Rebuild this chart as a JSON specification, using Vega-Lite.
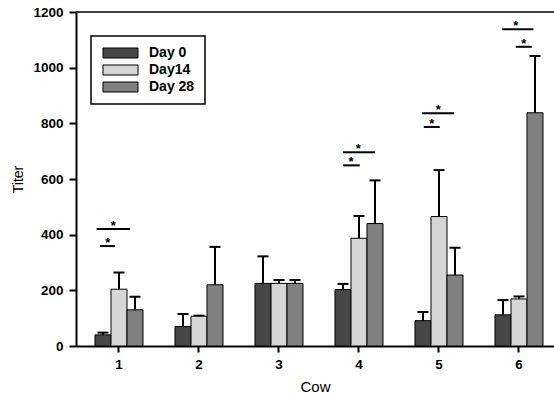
{
  "$schema": "https://vega.github.io/schema/vega-lite/v6.json",
  "width": 478,
  "height": 334,
  "autosize": "none",
  "padding": {"left": 76, "top": 12, "right": 0, "bottom": 48},
  "background": "white",
  "config": {
    "view": {"stroke": null},
    "font": "Liberation Sans",
    "axis": {
      "domainColor": "black",
      "domainWidth": 2,
      "tickColor": "black",
      "tickWidth": 2,
      "labelColor": "black",
      "titleColor": "black",
      "labelFont": "Liberation Sans",
      "titleFont": "Liberation Sans",
      "labelFontSize": 13.5,
      "labelFontWeight": "bold",
      "grid": false
    }
  },
  "layer": [
    {
      "data": {"values": [{}]},
      "mark": {"type": "rule", "color": "black", "strokeWidth": 1.5},
      "encoding": {"y": {"datum": 1200, "type": "quantitative"}}
    },
    {
      "data": {
        "values": [
          {"cow": "1", "day": "Day 0", "titer": 40, "upper": 48},
          {"cow": "1", "day": "Day14", "titer": 204, "upper": 264},
          {"cow": "1", "day": "Day 28", "titer": 130, "upper": 177},
          {"cow": "2", "day": "Day 0", "titer": 70, "upper": 115},
          {"cow": "2", "day": "Day14", "titer": 107, "upper": 109},
          {"cow": "2", "day": "Day 28", "titer": 220, "upper": 356},
          {"cow": "3", "day": "Day 0", "titer": 225, "upper": 322},
          {"cow": "3", "day": "Day14", "titer": 225, "upper": 237},
          {"cow": "3", "day": "Day 28", "titer": 225, "upper": 237},
          {"cow": "4", "day": "Day 0", "titer": 203, "upper": 223},
          {"cow": "4", "day": "Day14", "titer": 387, "upper": 467},
          {"cow": "4", "day": "Day 28", "titer": 440, "upper": 595},
          {"cow": "5", "day": "Day 0", "titer": 91, "upper": 122},
          {"cow": "5", "day": "Day14", "titer": 465, "upper": 632},
          {"cow": "5", "day": "Day 28", "titer": 255, "upper": 353},
          {"cow": "6", "day": "Day 0", "titer": 112, "upper": 165},
          {"cow": "6", "day": "Day14", "titer": 169, "upper": 178},
          {"cow": "6", "day": "Day 28", "titer": 838, "upper": 1042}
        ]
      },
      "encoding": {
        "x": {
          "field": "cow",
          "type": "nominal",
          "scale": {"type": "band", "paddingInner": 0.4, "paddingOuter": 0.1875, "align": 0.6333},
          "axis": {
            "title": "Cow",
            "labelAngle": 0,
            "tickSize": 6,
            "labelPadding": 5,
            "titleFontSize": 15,
            "titleFontWeight": "normal",
            "titleY": 45,
            "titleBaseline": "alphabetic"
          }
        },
        "xOffset": {"field": "day", "type": "nominal", "sort": ["Day 0", "Day14", "Day 28"]}
      },
      "layer": [
        {
          "mark": {"type": "rule", "color": "black", "strokeWidth": 2},
          "encoding": {
            "y": {"field": "titer", "type": "quantitative"},
            "y2": {"field": "upper"}
          }
        },
        {
          "mark": {"type": "tick", "color": "black", "size": 11, "thickness": 2, "opacity": 1},
          "encoding": {
            "y": {"field": "upper", "type": "quantitative"}
          }
        },
        {
          "mark": {"type": "bar", "stroke": "black", "strokeWidth": 1, "opacity": 1},
          "encoding": {
            "y": {
              "field": "titer",
              "type": "quantitative",
              "scale": {"domain": [0, 1200], "nice": false},
              "axis": {
                "title": "Titer",
                "format": "d",
                "values": [0, 200, 400, 600, 800, 1000, 1200],
                "tickSize": 7,
                "labelPadding": 6,
                "titleFontSize": 14,
                "titleFontWeight": "normal",
                "titleX": -54,
                "titleY": 167,
                "titleAngle": -90,
                "titleAlign": "center",
                "titleBaseline": "alphabetic"
              }
            },
            "fill": {
              "field": "day",
              "type": "nominal",
              "sort": ["Day 0", "Day14", "Day 28"],
              "scale": {"domain": ["Day 0", "Day14", "Day 28"], "range": ["#474747", "#d6d6d6", "#808080"]},
              "legend": {
                "title": null,
                "orient": "none",
                "legendX": 15,
                "legendY": 24,
                "padding": 10,
                "strokeColor": "black",
                "fillColor": "white",
                "symbolType": "M-3.5,-1H3.5V1H-3.5Z",
                "symbolSize": 100,
                "symbolStrokeColor": "black",
                "symbolStrokeWidth": 1,
                "symbolOpacity": 1,
                "symbolOffset": 12.5,
                "labelOffset": 21.5,
                "labelFontSize": 14,
                "labelFontWeight": "bold",
                "labelFont": "Liberation Sans",
                "labelColor": "black",
                "rowPadding": 3,
                "encode": {"legend": {"update": {"strokeWidth": {"value": 1.5}}}}
              }
            }
          }
        }
      ]
    },
    {
      "data": {
        "values": [
          {"x1": 0.72, "x2": 1.14, "y": 420, "sx": 0.93},
          {"x1": 0.76, "x2": 0.95, "y": 359, "sx": 0.86},
          {"x1": 3.80, "x2": 4.20, "y": 696, "sx": 3.99},
          {"x1": 3.80, "x2": 4.01, "y": 649, "sx": 3.90},
          {"x1": 4.79, "x2": 5.19, "y": 836, "sx": 4.99},
          {"x1": 4.81, "x2": 5.01, "y": 787, "sx": 4.91},
          {"x1": 5.79, "x2": 6.18, "y": 1138, "sx": 5.96},
          {"x1": 5.96, "x2": 6.16, "y": 1075, "sx": 6.06}
        ]
      },
      "layer": [
        {
          "mark": {"type": "rule", "color": "black", "strokeWidth": 2},
          "encoding": {
            "x": {"field": "x1", "type": "quantitative", "scale": {"domain": [0.4625, 6.4375], "nice": false, "zero": false}, "axis": null},
            "x2": {"field": "x2"},
            "y": {"field": "y", "type": "quantitative"}
          }
        },
        {
          "mark": {"type": "text", "text": "*", "fontSize": 13, "fontWeight": "bold", "color": "black", "baseline": "alphabetic", "dy": 1},
          "encoding": {
            "x": {"field": "sx", "type": "quantitative", "scale": {"domain": [0.4625, 6.4375], "nice": false, "zero": false}, "axis": null},
            "y": {"field": "y", "type": "quantitative"}
          }
        }
      ]
    }
  ],
  "resolve": {"scale": {"x": "independent"}}
}
